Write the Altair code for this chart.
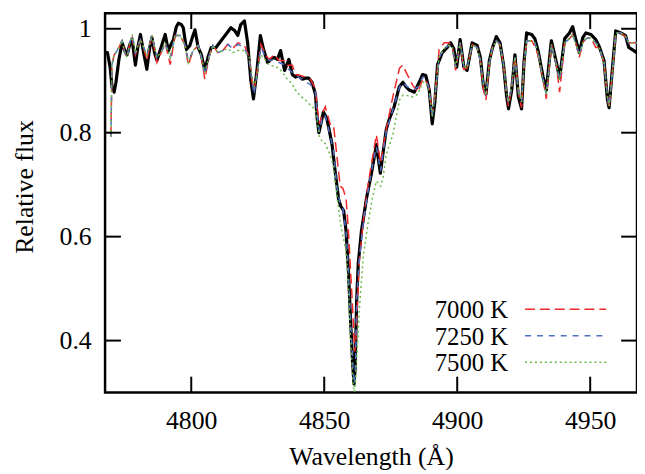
import altair as alt
import pandas as pd

# Observed spectrum (wavelength in Angstrom, relative flux)
obs_wl = [4767.8, 4768.5, 4769.5, 4770.2, 4771.0, 4771.7, 4772.8, 4774.0, 4775.0, 4775.9,
          4776.9, 4777.8, 4779.0, 4779.9, 4780.9, 4782.1, 4783.3, 4784.4, 4785.2, 4786.2,
          4787.1, 4788.3, 4789.2, 4790.2, 4791.4, 4792.4, 4793.3, 4794.4, 4795.2, 4796.3,
          4797.0, 4798.2, 4799.5, 4800.4, 4801.4, 4802.6, 4803.8, 4805.1, 4806.3, 4807.5,
          4809.3, 4811.2, 4813.0, 4814.9, 4816.4, 4817.5, 4818.6, 4820.0, 4821.2, 4822.4,
          4823.4, 4824.7, 4826.0, 4827.2, 4828.7, 4829.9, 4831.2, 4832.4, 4833.6, 4835.1,
          4836.7, 4838.0, 4839.2, 4840.5, 4841.7, 4843.0, 4844.2, 4845.4, 4846.7, 4847.3,
          4848.0, 4849.7, 4851.0, 4852.9, 4854.1, 4855.4, 4856.2, 4857.3, 4858.2, 4859.1,
          4859.9, 4860.7, 4861.2, 4861.6, 4862.2, 4862.8, 4864.0, 4865.9, 4867.7, 4869.6,
          4871.1, 4872.2, 4873.3, 4874.4, 4876.3, 4878.2, 4879.6, 4880.8, 4882.0, 4883.9,
          4885.7, 4887.0, 4888.2, 4889.5, 4890.6, 4891.6, 4892.6, 4894.4, 4896.3, 4897.5,
          4898.7, 4899.8, 4901.1, 4902.5, 4903.7, 4905.6, 4907.5, 4908.7, 4909.9, 4910.8,
          4912.1, 4913.3, 4914.7, 4916.1, 4917.4, 4918.6, 4919.3, 4920.5, 4921.7, 4923.0,
          4924.2, 4925.1, 4926.1, 4928.0, 4929.2, 4930.4, 4932.3, 4933.5, 4935.4, 4937.3,
          4938.5, 4940.4, 4942.2, 4943.4, 4944.7, 4945.9, 4947.2, 4948.4, 4950.3, 4952.1,
          4953.4, 4955.2, 4956.5, 4957.1, 4958.4, 4959.6, 4961.5, 4963.3, 4964.5, 4966.4,
          4967.5]
obs_flux = [0.954, 0.954, 0.926, 0.888, 0.878, 0.897, 0.941, 0.973, 0.958, 0.950,
            0.970, 0.979, 0.930, 0.964, 0.989, 0.954, 0.922, 0.964, 0.983, 0.954,
            0.939, 0.958, 0.973, 0.989, 0.958, 0.970, 0.979, 1.004, 1.011, 1.008,
            1.002, 0.960, 0.968, 0.983, 0.998, 0.964, 0.950, 0.920, 0.945, 0.964,
            0.964, 0.977, 0.989, 1.002, 0.996, 0.987, 1.008, 1.015, 0.973, 0.901,
            0.865, 0.920, 0.987, 0.960, 0.935, 0.941, 0.945, 0.941, 0.958, 0.920,
            0.941, 0.912, 0.907, 0.909, 0.903, 0.905, 0.905, 0.897, 0.874, 0.830,
            0.800, 0.840, 0.827, 0.779, 0.726, 0.672, 0.659, 0.650, 0.611, 0.535,
            0.440, 0.354, 0.316, 0.345, 0.478, 0.549, 0.611, 0.674, 0.720, 0.777,
            0.722, 0.764, 0.806, 0.825, 0.850, 0.888, 0.897, 0.888, 0.882, 0.878,
            0.897, 0.912, 0.910, 0.882, 0.817, 0.859, 0.931, 0.954, 0.964, 0.973,
            0.962, 0.926, 0.979, 0.926, 0.920, 0.973, 0.968, 0.945, 0.888, 0.874,
            0.939, 0.964, 0.985, 0.973, 0.931, 0.869, 0.846, 0.882, 0.950, 0.869,
            0.846, 0.935, 0.992, 0.989, 0.981, 0.958, 0.907, 0.882, 0.977, 0.935,
            0.905, 0.981, 0.992, 1.004, 0.977, 0.954, 0.983, 0.992, 0.989, 0.979,
            0.966, 0.939, 0.863, 0.848, 0.926, 0.996, 0.992, 0.987, 0.964, 0.958,
            0.954]

# Synthetic spectra on a common wavelength grid
mod_wl = [4769.8, 4770.2, 4771.0, 4771.7, 4772.8, 4774.0, 4775.0, 4775.9, 4776.9, 4777.8,
          4779.0, 4780.9, 4782.1, 4783.3, 4785.2, 4787.1, 4789.0, 4790.2, 4792.1, 4793.9,
          4795.8, 4797.7, 4798.9, 4800.7, 4802.6, 4803.8, 4805.1, 4806.9, 4808.1, 4810.0,
          4811.9, 4813.7, 4815.6, 4817.5, 4820.0, 4821.8, 4822.9, 4823.6, 4824.7, 4826.2,
          4828.0, 4829.3, 4831.2, 4833.0, 4834.9, 4836.1, 4838.0, 4839.2, 4841.1, 4843.0,
          4844.8, 4846.7, 4847.3, 4848.2, 4849.5, 4850.4, 4852.2, 4853.5, 4854.7, 4856.0,
          4857.0, 4858.2, 4859.1, 4859.9, 4860.9, 4861.4, 4861.8, 4862.2, 4863.2, 4864.7,
          4866.5, 4868.1, 4869.6, 4871.2, 4872.2, 4873.3, 4875.8, 4878.3, 4879.6, 4880.8,
          4883.3, 4885.2, 4887.0, 4888.2, 4889.5, 4890.6, 4891.6, 4893.2, 4895.1, 4896.9,
          4898.2, 4899.4, 4901.1, 4902.5, 4903.7, 4905.6, 4907.5, 4908.7, 4909.9, 4910.8,
          4912.1, 4913.3, 4914.7, 4916.1, 4917.4, 4918.6, 4919.3, 4920.5, 4921.7, 4923.0,
          4924.2, 4925.1, 4926.1, 4928.0, 4929.2, 4930.4, 4932.3, 4933.5, 4935.4, 4937.3,
          4938.5, 4940.4, 4942.2, 4943.4, 4944.7, 4945.9, 4947.2, 4948.4, 4950.3, 4952.1,
          4953.4, 4955.2, 4956.5, 4957.1, 4958.4, 4959.6, 4961.5, 4963.3, 4964.5, 4966.4,
          4967.5]
flux_7000 = [0.792, 0.931, 0.950, 0.954, 0.964, 0.977, 0.954, 0.945, 0.973, 0.983,
             0.950, 0.979, 0.964, 0.939, 0.987, 0.935, 0.958, 0.973, 0.931, 0.987,
             0.987, 0.968, 0.930, 0.958, 0.968, 0.945, 0.903, 0.950, 0.968, 0.954,
             0.958, 0.970, 0.962, 0.973, 0.968, 0.945, 0.897, 0.882, 0.916, 0.970,
             0.949, 0.941, 0.950, 0.939, 0.939, 0.930, 0.930, 0.912, 0.910, 0.907,
             0.903, 0.884, 0.850, 0.817, 0.840, 0.850, 0.817, 0.815, 0.758, 0.697,
             0.693, 0.674, 0.611, 0.535, 0.440, 0.379, 0.392, 0.440, 0.554, 0.630,
             0.701, 0.750, 0.796, 0.741, 0.773, 0.806, 0.869, 0.924, 0.930, 0.916,
             0.891, 0.878, 0.903, 0.901, 0.884, 0.836, 0.869, 0.960, 0.973, 0.973,
             0.964, 0.920, 0.973, 0.922, 0.924, 0.970, 0.964, 0.939, 0.882, 0.863,
             0.935, 0.964, 0.977, 0.970, 0.931, 0.874, 0.851, 0.888, 0.945, 0.878,
             0.848, 0.931, 0.977, 0.977, 0.966, 0.949, 0.901, 0.865, 0.970, 0.931,
             0.878, 0.973, 0.981, 0.989, 0.970, 0.945, 0.973, 0.981, 0.983, 0.964,
             0.964, 0.935, 0.869, 0.848, 0.920, 0.992, 0.992, 0.985, 0.973, 0.973,
             0.973]
flux_7250 = [0.792, 0.931, 0.950, 0.954, 0.964, 0.977, 0.954, 0.945, 0.973, 0.989,
             0.954, 0.979, 0.964, 0.950, 0.987, 0.945, 0.958, 0.973, 0.945, 0.987,
             0.987, 0.968, 0.939, 0.958, 0.968, 0.945, 0.912, 0.950, 0.968, 0.954,
             0.958, 0.970, 0.962, 0.970, 0.964, 0.939, 0.897, 0.874, 0.912, 0.964,
             0.945, 0.939, 0.941, 0.935, 0.931, 0.924, 0.916, 0.910, 0.905, 0.897,
             0.893, 0.878, 0.836, 0.802, 0.834, 0.832, 0.796, 0.764, 0.697, 0.663,
             0.653, 0.611, 0.535, 0.440, 0.341, 0.316, 0.364, 0.478, 0.558, 0.627,
             0.688, 0.735, 0.773, 0.726, 0.764, 0.802, 0.844, 0.888, 0.897, 0.890,
             0.882, 0.888, 0.907, 0.905, 0.882, 0.830, 0.869, 0.945, 0.962, 0.968,
             0.964, 0.926, 0.973, 0.928, 0.924, 0.970, 0.964, 0.939, 0.890, 0.872,
             0.935, 0.964, 0.977, 0.970, 0.931, 0.874, 0.859, 0.888, 0.945, 0.878,
             0.859, 0.931, 0.977, 0.977, 0.973, 0.954, 0.901, 0.874, 0.970, 0.931,
             0.901, 0.973, 0.981, 0.989, 0.970, 0.950, 0.973, 0.981, 0.983, 0.973,
             0.964, 0.935, 0.869, 0.851, 0.920, 0.992, 0.992, 0.985, 0.973, 0.973,
             0.973]
flux_7500 = [0.792, 0.931, 0.950, 0.954, 0.964, 0.977, 0.954, 0.945, 0.973, 0.989,
             0.954, 0.979, 0.964, 0.950, 0.987, 0.945, 0.958, 0.973, 0.945, 0.987,
             0.987, 0.968, 0.935, 0.958, 0.968, 0.945, 0.916, 0.950, 0.968, 0.954,
             0.958, 0.962, 0.954, 0.958, 0.958, 0.945, 0.907, 0.888, 0.912, 0.950,
             0.939, 0.930, 0.928, 0.924, 0.912, 0.903, 0.893, 0.882, 0.870, 0.863,
             0.853, 0.844, 0.825, 0.792, 0.781, 0.779, 0.758, 0.735, 0.682, 0.630,
             0.602, 0.573, 0.503, 0.408, 0.312, 0.301, 0.326, 0.364, 0.459, 0.564,
             0.627, 0.674, 0.707, 0.697, 0.716, 0.758, 0.796, 0.863, 0.872, 0.872,
             0.869, 0.874, 0.897, 0.897, 0.878, 0.830, 0.869, 0.945, 0.962, 0.968,
             0.964, 0.926, 0.973, 0.928, 0.924, 0.970, 0.964, 0.939, 0.890, 0.872,
             0.935, 0.964, 0.977, 0.970, 0.931, 0.874, 0.859, 0.888, 0.945, 0.878,
             0.859, 0.931, 0.977, 0.977, 0.973, 0.954, 0.901, 0.874, 0.970, 0.931,
             0.901, 0.973, 0.981, 0.989, 0.970, 0.950, 0.973, 0.981, 0.983, 0.973,
             0.964, 0.935, 0.869, 0.851, 0.920, 0.992, 0.992, 0.985, 0.973, 0.973,
             0.973]

x_ticks = [4800, 4850, 4900, 4950]
y_ticks = [0.4, 0.6, 0.8, 1.0]
legend_labels = ["7000 K", "7250 K", "7500 K"]
colors = ["#f0282a", "#4f6fc4", "#66bb44"]

W, H = 537, 383
FONT = "Liberation Serif"

x_scale = alt.Scale(domain=[4767.6, 4967.6], nice=False, zero=False)
y_scale = alt.Scale(domain=[0.3, 1.03], nice=False, zero=False)

x_axis = alt.Axis(values=x_ticks, format="d", title="Wavelength (Å)", domain=False,
                  ticks=False, tickSize=0, grid=False, labelFont=FONT, labelFontSize=26,
                  labelColor="black", labelPadding=36, labelBaseline="alphabetic",
                  labelFlush=False, titleFont=FONT, titleFontSize=26,
                  titleFontWeight="normal", titleColor="black", titleY=73,
                  titleBaseline="alphabetic")
y_axis = alt.Axis(values=y_ticks, format="~g", title="Relative flux", domain=False,
                  ticks=False, tickSize=0, grid=False, labelFont=FONT, labelFontSize=26,
                  labelColor="black", labelPadding=14, labelFlush=False,
                  titleFont=FONT, titleFontSize=26, titleFontWeight="normal",
                  titleColor="black", titleX=-81, titleY=175, titleAlign="center",
                  titleBaseline="middle", titleAngle=270)

obs_df = pd.DataFrame({"wl": obs_wl, "flux": obs_flux})
mod_df = pd.DataFrame({"wl": mod_wl, "f7000": flux_7000, "f7250": flux_7250,
                       "f7500": flux_7500})

obs = alt.Chart(obs_df).mark_line(color="black", strokeWidth=3.2, strokeJoin="round").encode(
    x=alt.X("wl:Q", scale=x_scale, axis=x_axis),
    y=alt.Y("flux:Q", scale=y_scale, axis=y_axis),
)

dashes = [[10, 5], [6, 6], [2, 3]]
fields = ["f7000", "f7250", "f7500"]
model_layers = []
for f, c, d in zip(fields, colors, dashes):
    model_layers.append(
        alt.Chart(mod_df).mark_line(color=c, strokeWidth=1.5, strokeDash=d).encode(
            x=alt.X("wl:Q", scale=x_scale, axis=x_axis),
            y=alt.Y(f + ":Q", scale=y_scale, axis=y_axis),
        )
    )

xt = pd.DataFrame({"t": x_ticks})
yt = pd.DataFrame({"v": y_ticks})
tick_layers = [
    alt.Chart(xt).mark_rule(color="black", strokeWidth=2).encode(
        x=alt.X("t:Q", scale=x_scale, axis=x_axis), y=alt.value(H), y2=alt.value(H - 16)),
    alt.Chart(xt).mark_rule(color="black", strokeWidth=2).encode(
        x=alt.X("t:Q", scale=x_scale, axis=x_axis), y=alt.value(0), y2=alt.value(16)),
    alt.Chart(yt).mark_rule(color="black", strokeWidth=2).encode(
        y=alt.Y("v:Q", scale=y_scale, axis=y_axis), x=alt.value(0), x2=alt.value(16)),
    alt.Chart(yt).mark_rule(color="black", strokeWidth=2).encode(
        y=alt.Y("v:Q", scale=y_scale, axis=y_axis), x=alt.value(W), x2=alt.value(W - 16)),
]

legend_layers = []
line_y = [299, 325.7, 352.3]
text_y = [308, 334.7, 361]
for lab, c, d, ly, ty in zip(legend_labels, colors, dashes, line_y, text_y):
    ldf = pd.DataFrame({"label": [lab]})
    legend_layers.append(
        alt.Chart(ldf).mark_text(font=FONT, fontSize=25, align="right",
                                 baseline="alphabetic", color="black").encode(
            text="label:N", x=alt.value(407), y=alt.value(ty)))
    legend_layers.append(
        alt.Chart(ldf).mark_rule(color=c, strokeWidth=1.5, strokeDash=d).encode(
            x=alt.value(424), x2=alt.value(506), y=alt.value(ly)))

chart = alt.layer(obs, *model_layers, *tick_layers, *legend_layers).properties(
    width=W, height=H,
    autosize=alt.AutoSizeParams(type="none"),
    padding={"left": 98, "top": 3, "right": 0, "bottom": 80},
).configure_view(stroke="black", strokeWidth=2.5)

chart.save("out.html", embed_options={"renderer": "svg", "actions": False})
